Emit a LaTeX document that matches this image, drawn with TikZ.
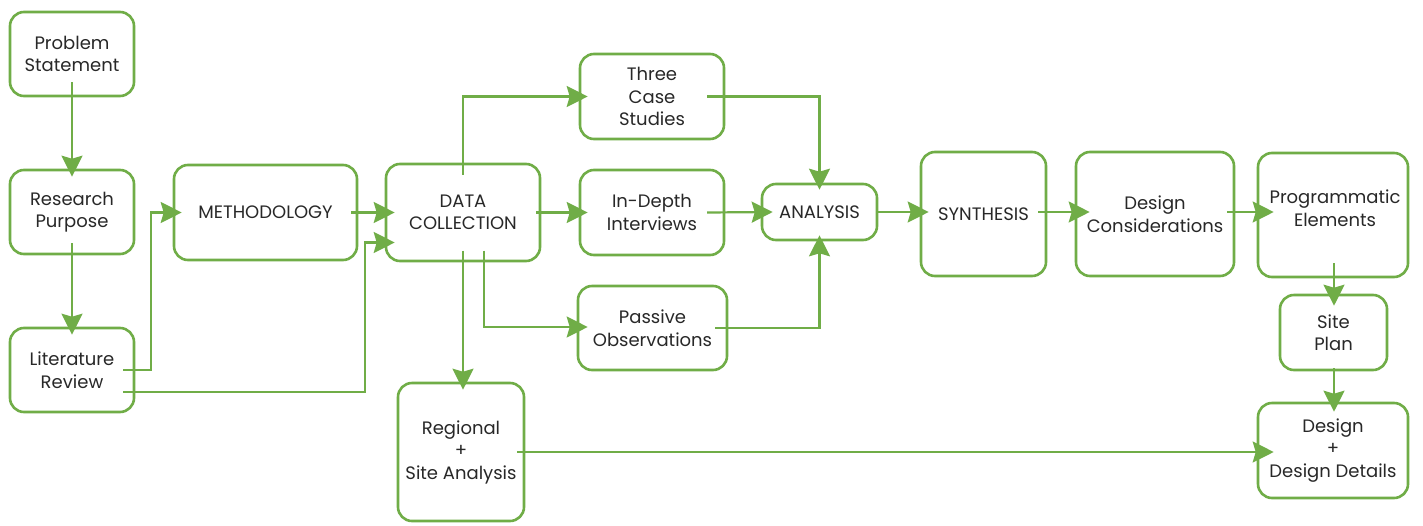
\documentclass[tikz,border=0pt]{standalone}
\usepackage{fontspec}
\setmainfont{Poppins}
\usetikzlibrary{arrows.meta,calc}
\definecolor{grn}{RGB}{112,173,71}
\definecolor{txt}{RGB}{40,40,40}
\begin{document}
\begin{tikzpicture}[x=1pt,y=-1pt,
  box/.style={draw=grn, line width=2.6pt, rounded corners=14pt, align=center, text=txt,
    font=\fontsize{18}{22.5}\selectfont, inner sep=0pt},
  lbl/.style={align=center, text=txt, font=\fontsize{18}{22.5}\selectfont, inner sep=0pt},
  arr/.style={draw=grn, line width=2.2pt, -{Stealth[length=21pt,width=21pt,inset=3pt]}}]
\path[use as bounding box, fill=white] (0,0) rectangle (1423,525);

\node[box, minimum width=124pt, minimum height=84pt] (ps) at (72,54) {Problem\\Statement};
\node[box, minimum width=124pt, minimum height=84pt] (rp) at (72,212) {Research\\Purpose};
\node[box, minimum width=124pt, minimum height=84pt] (lr) at (72,370) {Literature\\Review};
\node[box, minimum width=183pt, minimum height=95pt] (meth) at (265.5,212.5) {METHODOLOGY};
\node[box, minimum width=154pt, minimum height=97pt] (dc) at (463,212.5) {DATA\\COLLECTION};
\node[box, minimum width=144pt, minimum height=85pt] (tcs) at (652,96.5) {Three\\Case\\Studies};
\node[box, minimum width=144pt, minimum height=85pt] (idi) at (652,212.5) {In-Depth\\Interviews};
\node[box, minimum width=149pt, minimum height=84pt] (po) at (652.5,328) {Passive\\Observations};
\node[box, minimum width=115pt, minimum height=56pt] (an) at (819.5,212) {ANALYSIS};
\node[box, minimum width=125pt, minimum height=124pt] (syn) at (983.5,214) {SYNTHESIS};
\node[box, minimum width=158pt, minimum height=124pt] (dcon) at (1155,214) {Design\\Considerations};
\node[box, minimum width=150pt, minimum height=124pt] (pe) at (1333,215) {};
\node[lbl] (pet) at (1335,208) {Programmatic\\Elements};
\node[box, minimum width=107pt, minimum height=75pt] (sp) at (1333.5,332.5) {Site\\Plan};
\node[box, minimum width=150pt, minimum height=95pt] (dd) at (1333,450.5) {Design\\+\\Design Details};
\node[box, minimum width=126pt, minimum height=138pt] (reg) at (461,452) {Regional\\+\\Site Analysis};

\draw[arr] ($(ps.center)+(0,28)$) -- ($(rp.north)+(0,8)$);
\draw[arr] ($(rp.center)+(0,31)$) -- ($(lr.north)+(0,8)$);
\draw[arr] ($(lr.center)+(51,0)$) -| ($(meth.west)+(-22,0)$) -- ($(meth.west)+(9,0)$);
\draw[arr] ($(lr.center)+(51,22)$) -| ($(dc.west)+(-20,30)$) -- ($(dc.west)+(10,30)$);
\draw[arr] ($(meth.east)+(-7,0)$) -- ($(dc.west)+(10,0)$);
\draw[arr] ($(dc.center)+(0,-38)$) |- ($(tcs.west)+(9,0)$);
\draw[arr] ($(dc.east)+(-5,0)$) -- ($(idi.west)+(9,0)$);
\draw[arr] ($(dc.center)+(21,38)$) |- ($(po.west)+(11,-1)$);
\draw[arr] ($(dc.center)+(0,38)$) -- ($(dc.center |- reg.north)+(0,8)$);
\draw[arr] ($(tcs.center)+(55,0)$) -| ($(an.north)+(0,7)$);
\draw[arr] ($(idi.center)+(55,0)$) -- ($(an.west)+(12,0)$);
\draw[arr] ($(po.center)+(62.5,0)$) -| ($(an.south)+(0,-6)$);
\draw[arr] (an.east) -- ($(an.east -| syn.west)+(9,0)$);
\draw[arr] ($(syn.center)+(54.5,-2)$) -- ($(dcon.west)+(15,-2)$);
\draw[arr] ($(dcon.center)+(72,-2)$) -- ($(pe.west)+(17,-3)$);
\draw[arr] ($(pe.center)+(1,48)$) -- ($(sp.north)+(0.5,12)$);
\draw[arr] ($(sp.south)+(0.5,-3)$) -- ($(dd.north)+(1,10)$);
\draw[arr] ($(reg.center)+(56,0)$) -- ($(reg.center -| dd.west)+(17,0)$);
\end{tikzpicture}
\end{document}
